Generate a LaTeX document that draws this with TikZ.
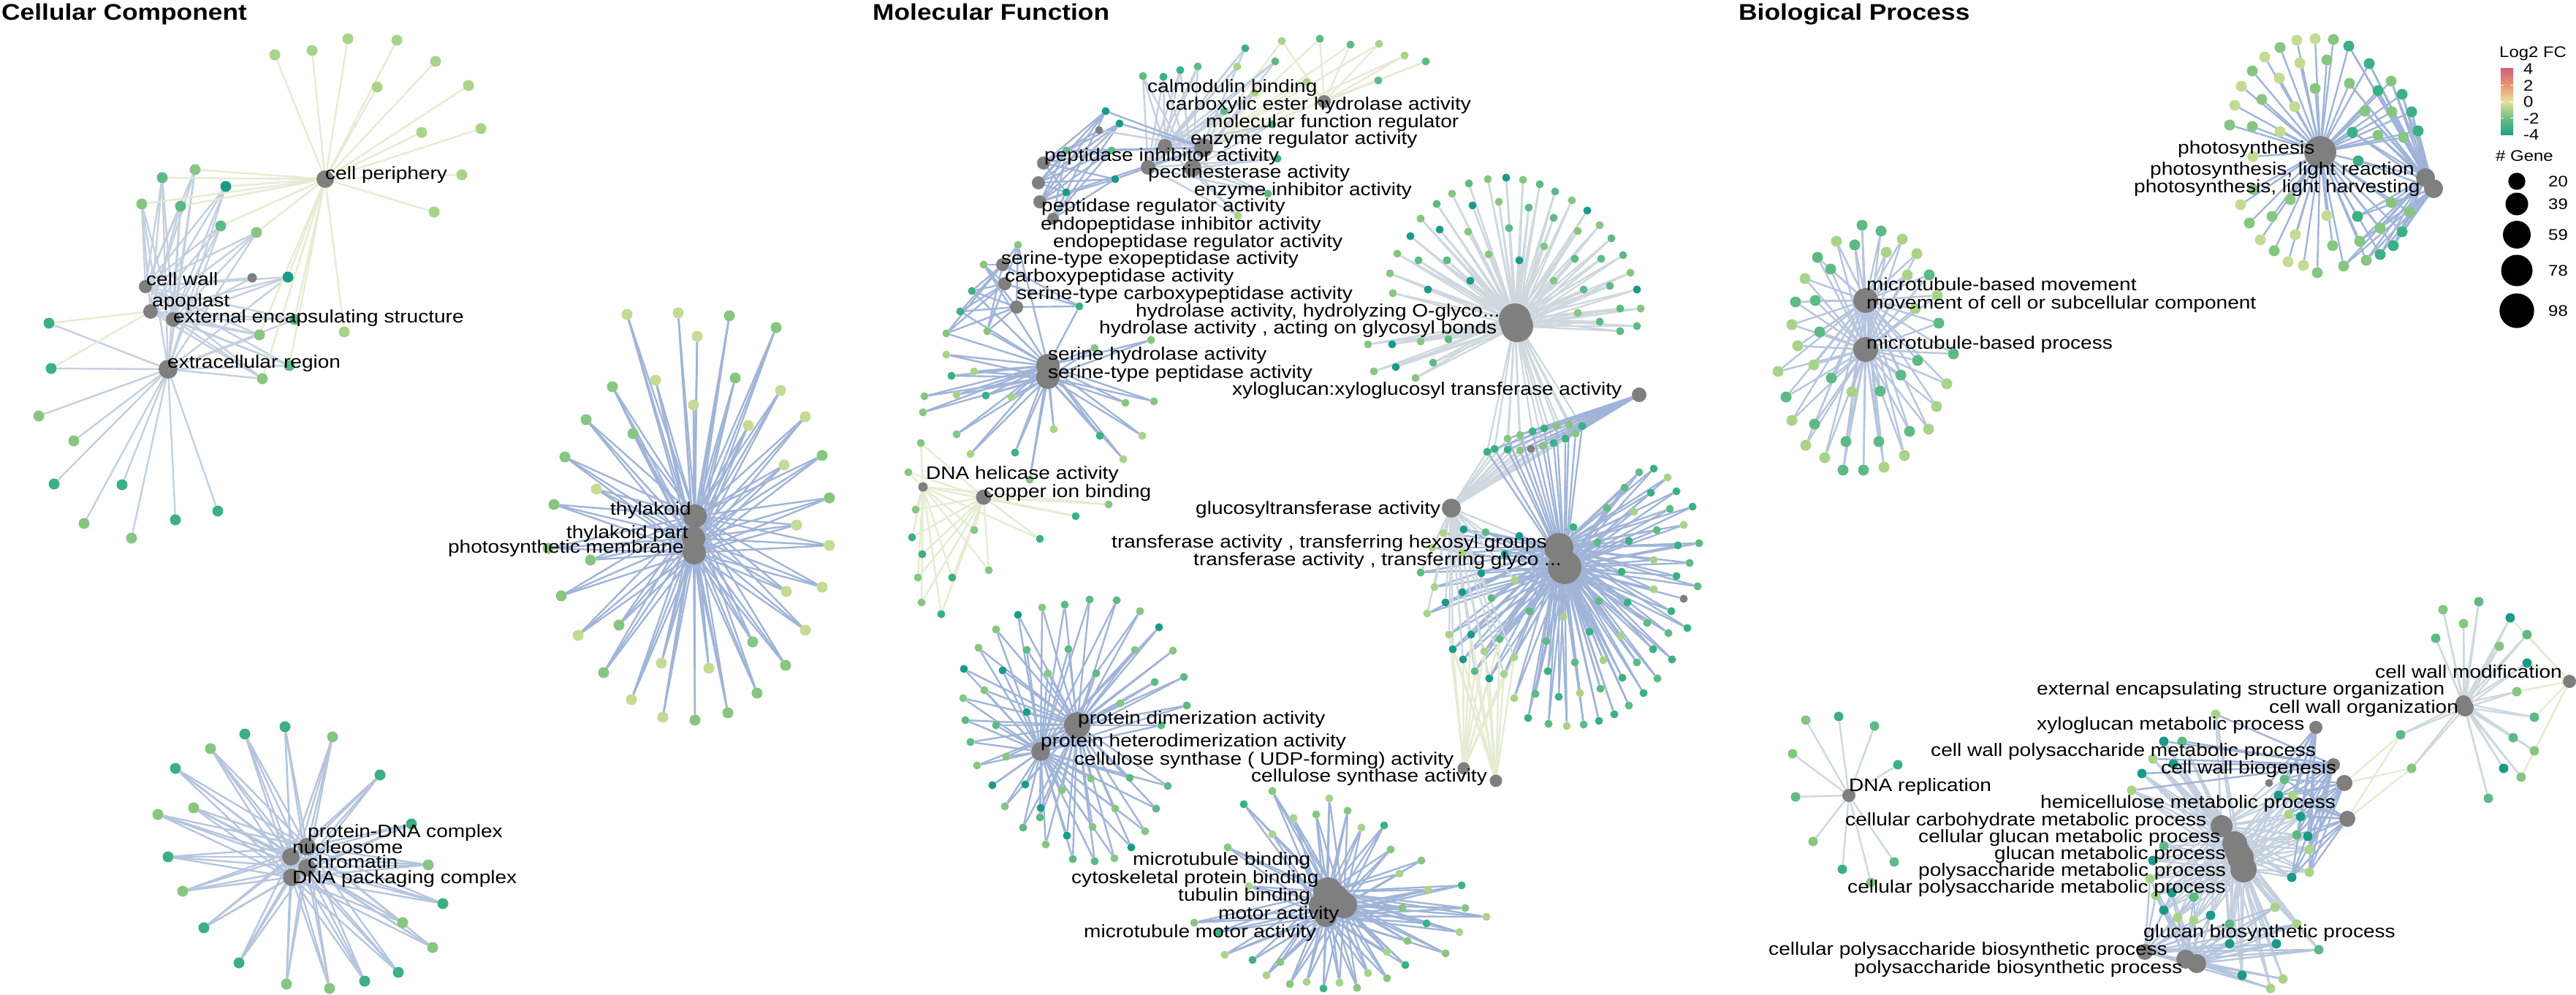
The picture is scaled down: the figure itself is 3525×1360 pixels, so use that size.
\documentclass[tikz,border=0pt]{standalone}
\usepackage{fontspec}
\setmainfont{Liberation Sans}[FakeStretch=1.14]
\usetikzlibrary{calc}
\pgfdeclarelayer{bg}\pgfdeclarelayer{hub}\pgfdeclarelayer{lab}
\pgfsetlayers{bg,main,hub,lab}
\definecolor{gc0}{RGB}{27,154,138}
\definecolor{gc1}{RGB}{59,176,132}
\definecolor{gc2}{RGB}{93,186,133}
\definecolor{gc3}{RGB}{134,198,128}
\definecolor{gc4}{RGB}{169,211,136}
\definecolor{gc5}{RGB}{196,219,147}
\definecolor{hubgray}{RGB}{127,127,127}
\definecolor{cEblue}{RGB}{160,180,216}
\definecolor{cEgrey}{RGB}{196,208,223}
\definecolor{cElgrey}{RGB}{206,216,222}
\definecolor{cEcream}{RGB}{229,236,210}
\definecolor{cEmix}{RGB}{182,197,222}
\definecolor{lc4}{RGB}{208,96,122}
\definecolor{lc2}{RGB}{233,150,110}
\definecolor{lc0}{RGB}{230,226,160}
\definecolor{lcm2}{RGB}{110,190,133}
\definecolor{lcm4}{RGB}{34,158,138}
\tikzset{
 gene/.style={circle,inner sep=0pt,minimum size=15pt,draw=none},
 mgene/.style={circle,inner sep=0pt,minimum size=11pt,draw=none},
 bgene/.style={circle,inner sep=0pt,minimum size=13pt,draw=none},
 hub/.style={circle,inner sep=0pt,fill=hubgray,draw=none,minimum size=#1},
 lab/.style={anchor=base west,inner sep=0pt,font=\fontsize{24.6}{26}\selectfont},
 labe/.style={lab,anchor=base east},
 ttl/.style={anchor=base west,inner sep=0pt,font=\fontsize{31}{34}\selectfont\bfseries},
 leg/.style={anchor=base west,inner sep=0pt,font=\fontsize{21}{23}\selectfont},
 eblue/.style={draw=cEblue,line width=2.4pt},
 egrey/.style={draw=cEgrey,line width=2.4pt},
 elgrey/.style={draw=cElgrey,line width=2.4pt},
 ecream/.style={draw=cEcream,line width=2.4pt},
 emix/.style={draw=cEmix,line width=2.4pt},
 curedge/.style={eblue}
}
% gene set: #1 prefix, #2 node style, #3 list x/y ; uses \hl, curedge, \clo,\cspan,\seed
\newcommand\gset[3]{%
  \foreach \gx/\gy [count=\gi] in {#3}{%
    \pgfmathtruncatemacro\gcc{\clo+mod(\gi*7+\gi*\gi*3+\seed,\cspan)}%
    \node[#2,fill=gc\gcc] (#1-\gi) at (\gx,\gy) {};}%
  \begin{pgfonlayer}{bg}%
  \foreach \gx/\gy [count=\gi] in {#3}{%
      \foreach \h in \hl {\draw[curedge] (\h) -- (#1-\gi);}}%
  \end{pgfonlayer}}
\newcommand\gedge[4]{%
  \begin{pgfonlayer}{bg}%
  \foreach \ii in {#2}{\foreach \h in {#3}{\draw[#4] (\h) -- (#1-\ii);}}%
  \end{pgfonlayer}}
\newcommand\setg[3]{\def\clo{#1}\def\cspan{#2}\def\seed{#3}}
\begin{document}
\begin{tikzpicture}[x=1pt,y=-1pt]
\begin{pgfonlayer}{bg}
\fill[white] (0,0) rectangle (3525,1360);
\end{pgfonlayer}
\useasboundingbox (0,0) rectangle (3525,1360);
% titles
\node[ttl] (tcc) at (2,27) {Cellular Component};
\node[ttl] (tmf) at (1194,27) {Molecular Function};
\node[ttl] (tbp) at (2379,27) {Biological Process};
% ================= HUBS =================
\begin{pgfonlayer}{hub}
\node[hub=24pt] (ccp) at (445,245) {};
\node[hub=18pt] (ccw) at (199,392) {};
\node[hub=20pt] (cap) at (206,426) {};
\node[hub=20pt] (cee) at (237,437) {};
\node[hub=26pt] (cer) at (230,505) {};
\node[hub=32pt] (th1) at (951,706) {};
\node[hub=32pt] (th2) at (949,736) {};
\node[hub=32pt] (th3) at (950,756) {};
\node[hub=24pt] (nd1) at (420,1158) {};
\node[hub=24pt] (nd2) at (398,1172) {};
\node[hub=24pt] (nd3) at (420,1187) {};
\node[hub=24pt] (nd4) at (399,1200) {};
% MF
\node[hub=18pt] (p1) at (1812,139) {};
\node[hub=20pt] (p2) at (1594,200) {};
\node[hub=26pt] (p3) at (1647,202) {};
\node[hub=20pt] (p4) at (1571,229) {};
\node[hub=24pt] (p5) at (1632,230) {};
\node[hub=18pt] (p6) at (1428,223) {};
\node[hub=18pt] (p7) at (1421,250) {};
\node[hub=18pt] (p8) at (1423,276) {};
\node[hub=16pt] (p9) at (1441,299) {};
\node[hub=18pt] (p10) at (1372,362) {};
\node[hub=18pt] (p11) at (1375,388) {};
\node[hub=18pt] (p12) at (1391,420) {};
\node[hub=32pt] (sh1) at (1434,500) {};
\node[hub=32pt] (sh2) at (1434,516) {};
\node[hub=44pt] (hg1) at (2073,437) {};
\node[hub=44pt] (hg2) at (2076,446) {};
\node[hub=20pt] (xg) at (2243,540) {};
\node[hub=26pt] (gt) at (1986,695) {};
\node[hub=40pt] (tr1) at (2133,749) {};
\node[hub=46pt] (tr2) at (2141,776) {};
\node[hub=21pt] (cu) at (1346,680) {};
\node[hub=13pt] (dh) at (1263,666) {};
\node[hub=36pt] (pd1) at (1474,992) {};
\node[hub=26pt] (pd2) at (1424,1028) {};
\node[hub=17pt] (cs1) at (2003,1051) {};
\node[hub=17pt] (cs2) at (2047,1068) {};
\node[hub=40pt] (mt1) at (1817,1220) {};
\node[hub=36pt] (mt2) at (1839,1238) {};
\node[hub=30pt] (mt3) at (1814,1253) {};
\node[hub=36pt] (mt4) at (1828,1228) {};
\node[hub=30pt] (mt5) at (1806,1238) {};
% BP
\node[hub=44pt] (ph1) at (3175,208) {};
\node[hub=26pt] (ph2) at (3319,243) {};
\node[hub=26pt] (ph3) at (3330,258) {};
\node[hub=34pt] (bm1) at (2553,411) {};
\node[hub=34pt] (bm2) at (2553,478) {};
\node[hub=18pt] (dr) at (2530,1088) {};
\node[hub=18pt] (cwm) at (3516,932) {};
\node[hub=24pt] (cwo) at (3373,968) {};
\node[hub=22pt] (eeo) at (3371,962) {};
\node[hub=18pt] (xgm) at (3169,995) {};
\node[hub=18pt] (cwp) at (3193,1046) {};
\node[hub=22pt] (cwb) at (3208,1071) {};
\node[hub=22pt] (hem) at (3212,1120) {};
\node[hub=30pt] (ccm) at (3040,1130) {};
\node[hub=34pt] (cgm) at (3058,1154) {};
\node[hub=34pt] (cpm) at (3062,1165) {};
\node[hub=36pt] (gmp) at (3066,1173) {};
\node[hub=36pt] (pmp) at (3070,1189) {};
\node[hub=22pt] (gbp) at (2935,1302) {};
\node[hub=26pt] (pb1) at (2991,1312) {};
\node[hub=26pt] (pb2) at (3006,1318) {};
\end{pgfonlayer}
% ================= CELLULAR COMPONENT =================
\def\hl{ccp}\tikzset{curedge/.style={ecream}}\setg{3}{2}{1}
\gset{ccpg}{gene}{376/75, 427/69, 476/53, 543/55, 596/84, 516/119, 641/117, 577/181, 658/176, 632/239, 594/290, 471/454}
\def\hl{ccw,cap,cee,cer}\tikzset{curedge/.style={egrey}}\setg{0}{5}{2}
\gset{ccs}{gene}{222/243, 267/232, 309/255, 194/279, 247/282, 302/309, 351/318, 394/379, 355/458, 403/437, 396/500, 359/518}
\gedge{ccs}{1,...,12}{ccp}{ecream}
\def\hl{cer}\setg{0}{4}{3}
\gset{cce}{gene}{67/442, 70/504, 53/569, 101/603, 74/662, 167/663, 115/716, 180/736, 240/711, 298/699}
\node[gene,fill=hubgray,minimum size=13pt] (ccna) at (345,380) {};
\begin{pgfonlayer}{bg}\draw[ecream] (cap) -- (cce-1); \draw[ecream] (cap) -- (cce-2);
\draw[egrey] (ccw) -- (ccna); \draw[egrey] (cee) -- (ccna);\end{pgfonlayer}
% thylakoid
\def\hl{th1,th2,th3}\tikzset{curedge/.style={eblue}}\setg{2}{4}{1}
\gset{thy}{gene}{858/430, 928/428, 998/432, 1062/448, 954/460, 897/520, 838/529, 1006/517, 1068/534, 949/554, 802/574, 866/593, 1024/582, 1102/570, 773/625, 1125/623, 1073/636, 816/669, 758/690, 1135/681, 1090/718, 1135/746, 750/750, 808/766, 1125/803, 1076/809, 768/815, 847/855, 791/869, 1102/862, 1030/878, 826/920, 905/907, 970/914, 1075/910, 1036/948, 864/957, 907/981, 951/985, 996/975}
% protein-DNA
\def\hl{nd1,nd2,nd3,nd4}\tikzset{curedge/.style={emix}}\setg{1}{4}{2}
\gset{pdn}{gene}{390/994, 335/1004, 455/1008, 288/1024, 240/1051, 520/1060, 216/1114, 265/1105, 563/1127, 230/1172, 586/1183, 250/1219, 606/1236, 279/1269, 551/1262, 592/1296, 327/1317, 545/1330, 392/1346, 451/1352, 499/1342}
% ================= MOLECULAR FUNCTION =================
\def\hl{p1,p3}\tikzset{curedge/.style={ecream}}\setg{1}{4}{3}
\gset{mfa}{mgene}{1806/53, 1848/61, 1887/60, 1922/76, 1951/84, 1886/110, 1788/112, 1754/56}
\def\hl{p2,p4,p5}\tikzset{curedge/.style={egrey}}\setg{0}{5}{1}
\gset{mfb}{mgene}{1704/66, 1745/84, 1693/91, 1639/91, 1615/96, 1592/105, 1564/104, 1717/127, 1675/152, 1741/170, 1748/217, 1735/265, 1694/295}
\def\hl{p6,p7,p8,p9,p3}\tikzset{curedge/.style={eblue}}\setg{0}{4}{2}
\gset{mfc}{mgene}{1513/152, 1532/169, 1459/206, 1521/206, 1526/245, 1459/263}
\node[mgene,fill=hubgray] (mna1) at (1504,178) {};
\def\hl{p10,p11,p12,sh1}\setg{1}{4}{4}
\gset{mfd}{mgene}{1393/335, 1346/362, 1330/398, 1314/426, 1351/453, 1295/456, 1477/419}
\def\hl{sh1,sh2}\setg{0}{5}{3}
\gset{ser}{mgene}{1265/542, 1309/540, 1349/541, 1384/543, 1263/564, 1309/594, 1442/587, 1505/596, 1563/596, 1540/551, 1579/549, 1295/485, 1302/514, 1333/508, 1498/476, 1575/465, 1537/628, 1389/619, 1328/621, 1409/656}
\def\hl{cu,dh}\tikzset{curedge/.style={ecream}}\setg{0}{4}{1}
\gset{cop}{mgene}{1243/646, 1253/697, 1248/735, 1262/758, 1256/790, 1261/824, 1288/840, 1303/790, 1333/725, 1353/780, 1423/737, 1472/706, 1517/690, 1260/606}
% hydrolase O-glyco
\def\hl{hg1,hg2}\tikzset{curedge/.style={elgrey}}\setg{0}{5}{2}
\gset{hyd}{mgene}{2010/251, 2036/245, 2061/243, 2084/246, 2107/252, 2128/262, 2151/274, 2172/288, 2189/308, 2205/326, 2221/349, 2231/373, 2240/396, 2245/422, 2240/446, 2217/453, 1987/265, 2015/281, 2051/276, 2092/284, 1966/279, 1944/299, 1970/314, 2009/317, 2065/312, 2126/298, 2159/316, 1930/323, 1912/347, 1941/356, 1980/356, 2037/348, 2079/356, 2113/337, 2155/354, 2191/354, 1902/374, 2012/384, 2126/384, 2167/396, 2203/391, 1906/401, 1954/396, 2159/428, 2189/440, 2217/422, 1872/471, 1905/471, 1944/467, 1982/464, 2075/463, 1880/508, 1910/502, 1937/517, 1961/496}
% band
\def\hl{hg1,gt}\setg{0}{4}{3}
\gset{bnd}{mgene}{2035/618, 2045/614, 2063/600, 2080/595, 2097/590, 2113/586, 2130/583, 2147/581, 2165/583, 2063/615, 2080/616, 2111/610, 2126/606, 2142/600, 2156/593}
\gedge{bnd}{1,...,15}{xg,tr2}{eblue}
\node[mgene,fill=hubgray] (mna2) at (2095,614) {};
% transferase
\def\hl{tr1,tr2}\tikzset{curedge/.style={eblue}}\setg{0}{5}{1}
\gset{trr}{mgene}{2263/641, 2243/646, 2282/653, 2223/667, 2259/674, 2294/672, 2199/695, 2236/700, 2285/696, 2316/693, 2153/721, 2267/725, 2304/718, 2186/742, 2229/740, 2296/746, 2325/743, 2263/766, 2312/770, 2219/782, 2294/788, 2323/802, 2263/806, 2188/822, 2227/824, 2287/836, 2093/836, 2139/844, 2254/852, 2309/859, 2175/864, 2283/866, 2218/870, 2116/877, 2262/888, 2288/902, 2155/906, 2194/903, 2240/906, 2118/918, 2220/927, 2268/928, 2162/948, 2190/942, 2249/948, 2133/953, 2101/949, 2072/955, 2229/965, 2209/977, 2091/982, 2119/990, 2144/993, 2167/991, 2188/986}
\node[mgene,fill=hubgray] (mna3) at (2304,819) {};
\begin{pgfonlayer}{bg}\draw[eblue] (p6) -- (mna1); \draw[egrey] (p3) -- (mna1);
\draw[eblue] (xg) -- (mna2); \draw[eblue] (tr2) -- (mna2); \draw[eblue] (tr2) -- (mna3);\end{pgfonlayer}
\setg{0}{5}{4}
\gset{trl}{mgene}{1975/729, 2003/724, 2033/728, 2079/733, 1960/749, 2001/756, 2059/758, 1944/783, 2027/784, 2073/793, 1963/803, 2001/810, 2041/818, 1978/824, 1953/839, 1983/868, 2013/868, 2052/874, 1988/888, 2031/891, 2072/899, 2002/902, 2018/918, 2038/928, 2058/922}
\gedge{trl}{1,...,25}{gt}{elgrey}
\gedge{trl}{16,...,25}{cs1,cs2}{ecream}
% protein dimerization
\def\hl{pd1,pd2}\setg{0}{5}{2}
\gset{pdm}{mgene}{1491/820, 1363/861, 1319/915, 1318/955, 1321/985, 1328/1015, 1337/1047, 1358/1074, 1375/1103, 1624/965, 1620/926, 1605/890, 1586/858, 1560/836, 1528/821, 1457/827, 1426/831, 1393/841, 1339/886, 1405/889, 1462/888, 1553/889, 1372/917, 1434/921, 1500/921, 1580/933, 1347/944, 1405/974, 1533/962, 1363/992, 1589/992, 1377/1035, 1403/1073, 1493/1065, 1546/1064, 1598/1075, 1453/1081, 1424/1105, 1526/1106, 1582/1106, 1423/1118, 1567/1137, 1548/1159, 1525/1174, 1498/1178, 1468/1175, 1431/1155, 1460/1143, 1495/1131, 1400/1132}
% microtubule MF
\def\hl{mt1,mt2,mt3}\setg{0}{5}{3}
\gset{mtm}{mgene}{1741/1082, 1819/1092, 1702/1100, 1770/1119, 1801/1114, 1844/1109, 1863/1132, 1894/1129, 1741/1141, 1903/1162, 1945/1177, 1915/1195, 2000/1211, 1954/1217, 1919/1242, 2005/1242, 2034/1254, 1952/1263, 1997/1275, 1926/1287, 1978/1304, 1898/1302, 1923/1320, 1872/1331, 1898/1338, 1857/1351, 1833/1344, 1811/1352, 1788/1343, 1765/1346, 1752/1316, 1733/1334, 1714/1313, 1676/1306, 1634/1262, 1680/1159, 1709/1212, 1667/1275}
% ================= BIOLOGICAL PROCESS =================
\def\hl{ph1}\setg{2}{4}{1}
\gset{phl}{gene}{3143/55, 3168/53, 3193/54, 3120/65, 3099/78, 3147/86, 3184/82, 3082/97, 3119/107, 3067/118, 3168/121, 3095/136, 3058/144, 3140/146, 3051/171, 3082/173, 3120/180, 3083/214, 3083/259, 3134/273, 3066/280, 3184/295, 3109/296, 3078/305, 3141/321, 3093/328, 3192/336, 3112/343, 3131/358, 3152/363, 3171/373}
\def\hl{ph1,ph2,ph3}\setg{1}{4}{2}
\gset{phr}{gene}{3214/63, 3242/87, 3272/111, 3215/114, 3254/124, 3287/129, 3236/152, 3273/153, 3300/153, 3219/181, 3254/185, 3289/188, 3309/179, 3227/220, 3272/277, 3297/290, 3226/296, 3287/317, 3257/312, 3229/330, 3275/336, 3257/348, 3238/356, 3207/364}
\def\hl{bm1,bm2}\tikzset{curedge/.style={emix}}\setg{1}{4}{3}
\gset{bmt}{gene}{2548/308, 2574/316, 2603/327, 2513/330, 2538/335, 2487/352, 2581/345, 2623/347, 2505/368, 2640/376, 2610/376, 2470/381, 2457/413, 2484/411, 2621/422, 2452/444, 2490/454, 2653/442, 2651/404, 2460/473, 2673/484, 2624/493, 2433/508, 2482/499, 2506/517, 2601/513, 2664/525, 2534/536, 2573/535, 2444/543, 2650/556, 2452/575, 2483/580, 2613/590, 2639/587, 2471/609, 2526/604, 2571/604, 2606/623, 2497/626, 2522/643, 2550/643, 2578/639}
\def\hl{dr}\tikzset{curedge/.style={elgrey}}\setg{1}{3}{1}
\gset{dnr}{bgene}{2471/985, 2516/980, 2565/993, 2453/1031, 2597/1046, 2457/1090, 2481/1151, 2521/1189, 2592/1179, 2560/1207}
\def\hl{cwo,eeo}\setg{0}{5}{2}
\gset{cwg}{bgene}{3392/823, 3343/834, 3435/845, 3371/853, 3458/868, 3333/873, 3420/884, 3458/907, 3444/946, 3468/981, 3439/1009, 3468/1027, 3426/1051, 3450/1063, 3405/1092, 3285/1005, 3300/1051}
\gedge{cwg}{3,5,8,9,10,12,14}{cwm}{ecream}
\gedge{cwg}{16,17}{cwb,hem}{ecream}
\def\hl{ccm,cgm,gmp,pmp}\tikzset{curedge/.style={egrey}}\setg{0}{5}{4}
\gset{glc}{bgene}{3032/977, 2961/1014, 2986/1014, 2931/1058, 2946/1038, 2917/1081, 2974/1045, 3126/1066, 3118/1088, 3137/1088, 3132/1114, 3148/1117, 3143/1142, 3158/1144, 3160/1162, 3160/1193, 3136/1200, 2961/1157, 2946/1177, 2942/1202, 2950/1225, 2972/1221, 3002/1227, 2961/1245, 2980/1255, 3002/1259, 3025/1252, 3051/1264, 3051/1291, 3113/1241, 3143/1264, 3115/1291, 3173/1299, 3068/1334, 3124/1339, 3107/1352}
\node[bgene,fill=hubgray,minimum size=11pt] (bna) at (3105,1071) {};
\begin{pgfonlayer}{bg}
\foreach \ii in {8,...,17}{\foreach \h in {xgm,cwp,cwb,hem}{\draw[eblue] (\h) -- (glc-\ii);}}
\foreach \ii in {1,...,7}{\draw[eblue] (cwp) -- (glc-\ii);}
\foreach \ii in {20,...,36}{\foreach \h in {gbp,pb1,pb2}{\draw[emix] (\h) -- (glc-\ii);}}
\draw[eblue] (xgm) -- (bna); \draw[egrey] (ccm) -- (bna);
\end{pgfonlayer}
% ================= LABELS =================
\begin{pgfonlayer}{lab}
\node[lab] (Lcp) at (445,245) {cell periphery};
\node[lab] (Lcw) at (200,390) {cell wall};
\node[lab] (Lap) at (208,419) {apoplast};
\node[lab] (Lee) at (237,441) {external encapsulating structure};
\node[lab] (Ler) at (229,503) {extracellular region};
\node[labe] (Lth) at (946,704) {thylakoid};
\node[labe] (Ltp) at (942,736) {thylakoid part};
\node[labe] (Lpm) at (936,756) {photosynthetic membrane};
\node[lab] (Lpd) at (421,1145) {protein-DNA complex};
\node[lab] (Lnu) at (400,1167) {nucleosome};
\node[lab] (Lch) at (421,1187) {chromatin};
\node[lab] (Ldp) at (400,1208) {DNA packaging complex};
% MF
\node[lab] (Lcb) at (1570,126) {calmodulin binding};
\node[lab] (Lce) at (1595,150) {carboxylic ester hydrolase activity};
\node[lab] (Lmf) at (1650,174) {molecular function regulator};
\node[lab] (Ler2) at (1629,197) {enzyme regulator activity};
\node[lab] (Lpi) at (1429,220) {peptidase inhibitor activity};
\node[lab] (Lpe) at (1571,243) {pectinesterase activity};
\node[lab] (Lei) at (1634,267) {enzyme inhibitor activity};
\node[lab] (Lpr) at (1425,289) {peptidase regulator activity};
\node[lab] (Lepi) at (1424,314) {endopeptidase inhibitor activity};
\node[lab] (Lepr) at (1441,338) {endopeptidase regulator activity};
\node[lab] (Lse) at (1370,361) {serine-type exopeptidase activity};
\node[lab] (Lcx) at (1375,385) {carboxypeptidase activity};
\node[lab] (Lsc) at (1391,409) {serine-type carboxypeptidase activity};
\node[lab] (Lho) at (1554,433) {hydrolase activity, hydrolyzing O-glyco...};
\node[lab] (Lhg) at (1504,456) {hydrolase activity , acting on glycosyl bonds};
\node[lab] (Lsh) at (1434,492) {serine hydrolase activity};
\node[lab] (Lsp) at (1434,517) {serine-type peptidase activity};
\node[lab] (Lxx) at (1686,540) {xyloglucan:xyloglucosyl transferase activity};
\node[lab] (Ldh) at (1267,655) {DNA helicase activity};
\node[lab] (Lcu) at (1346,680) {copper ion binding};
\node[lab] (Lgt) at (1636,703) {glucosyltransferase activity};
\node[lab] (Lth2) at (1521,749) {transferase activity , transferring hexosyl groups};
\node[lab] (Ltg) at (1633,773) {transferase activity , transferring glyco ...};
\node[lab] (Lpdz) at (1475,990) {protein dimerization activity};
\node[lab] (Lphd) at (1424,1021) {protein heterodimerization activity};
\node[lab] (Lcsu) at (1470,1046) {cellulose synthase ( UDP-forming) activity};
\node[lab] (Lcsa) at (1712,1069) {cellulose synthase activity};
\node[lab] (Lmb) at (1550,1183) {microtubule binding};
\node[lab] (Lcpb) at (1466,1208) {cytoskeletal protein binding};
\node[lab] (Ltb) at (1612,1232) {tubulin binding};
\node[lab] (Lma) at (1667,1257) {motor activity};
\node[lab] (Lmma) at (1483,1282) {microtubule motor activity};
% BP
\node[lab] (Lps) at (2980,210) {photosynthesis};
\node[lab] (Lplr) at (2942,239) {photosynthesis, light reaction};
\node[lab] (Lplh) at (2920,263) {photosynthesis, light harvesting};
\node[lab] (Lmbm) at (2554,397) {microtubule-based movement};
\node[lab] (Lmoc) at (2554,422) {movement of cell or subcellular component};
\node[lab] (Lmbp) at (2554,477) {microtubule-based process};
\node[lab] (Ldr) at (2530,1082) {DNA replication};
\node[lab] (Lcwm) at (3250,927) {cell wall modification};
\node[lab] (Leeo) at (2787,950) {external encapsulating structure organization};
\node[lab] (Lcwo) at (3105,975) {cell wall organization};
\node[lab] (Lxgm) at (2787,998) {xyloglucan metabolic process};
\node[lab] (Lcwp) at (2642,1034) {cell wall polysaccharide metabolic process};
\node[lab] (Lcwb) at (2957,1058) {cell wall biogenesis};
\node[lab] (Lhem) at (2792,1105) {hemicellulose metabolic process};
\node[lab] (Lccm) at (2525,1129) {cellular carbohydrate metabolic process};
\node[lab] (Lcgm) at (2625,1152) {cellular glucan metabolic process};
\node[lab] (Lgmp) at (2729,1175) {glucan metabolic process};
\node[lab] (Lpmp) at (2625,1198) {polysaccharide metabolic process};
\node[lab] (Lcpm) at (2528,1221) {cellular polysaccharide metabolic process};
\node[lab] (Lgbp) at (2933,1282) {glucan biosynthetic process};
\node[lab] (Lcpb2) at (2420,1306) {cellular polysaccharide biosynthetic process};
\node[lab] (Lpbp) at (2537,1331) {polysaccharide biosynthetic process};
\end{pgfonlayer}
% ================= LEGEND =================
\node[leg] (Llfc) at (3420,78) {Log2 FC};
\shade[top color=lc4,bottom color=lc2] (3422,93) rectangle (3439,116.5);
\shade[top color=lc2,bottom color=lc0] (3422,116) rectangle (3439,139.5);
\shade[top color=lc0,bottom color=lcm2] (3422,139) rectangle (3439,161.5);
\shade[top color=lcm2,bottom color=lcm4] (3422,161) rectangle (3439,184);
\foreach \ty in {116,139,161}{\draw[white,line width=1pt] (3422,\ty) -- (3426,\ty) (3435,\ty) -- (3439,\ty);}
\node[leg] (Lt4) at (3453,101.5) {4};
\node[leg] (Lt2) at (3453,124.5) {2};
\node[leg] (Lt0) at (3453,146.5) {0};
\node[leg] (Ltm2) at (3453,169.5) {-2};
\node[leg] (Ltm4) at (3453,191.5) {-4};
\node[leg] (Lng) at (3415,220) {\# Gene};
\node[circle,fill=black,inner sep=0pt,minimum size=23.4pt] (s20) at (3444,248) {};
\node[circle,fill=black,inner sep=0pt,minimum size=31pt] (s39) at (3444,279) {};
\node[circle,fill=black,inner sep=0pt,minimum size=38pt] (s59) at (3444,321) {};
\node[circle,fill=black,inner sep=0pt,minimum size=43pt] (s78) at (3444,370) {};
\node[circle,fill=black,inner sep=0pt,minimum size=47.4pt] (s98) at (3444,425) {};
\node[leg] (L20) at (3487,255.5) {20};
\node[leg] (L39) at (3487,286.5) {39};
\node[leg] (L59) at (3487,328.5) {59};
\node[leg] (L78) at (3487,377.5) {78};
\node[leg] (L98) at (3487,432.5) {98};
\end{tikzpicture}
\end{document}
